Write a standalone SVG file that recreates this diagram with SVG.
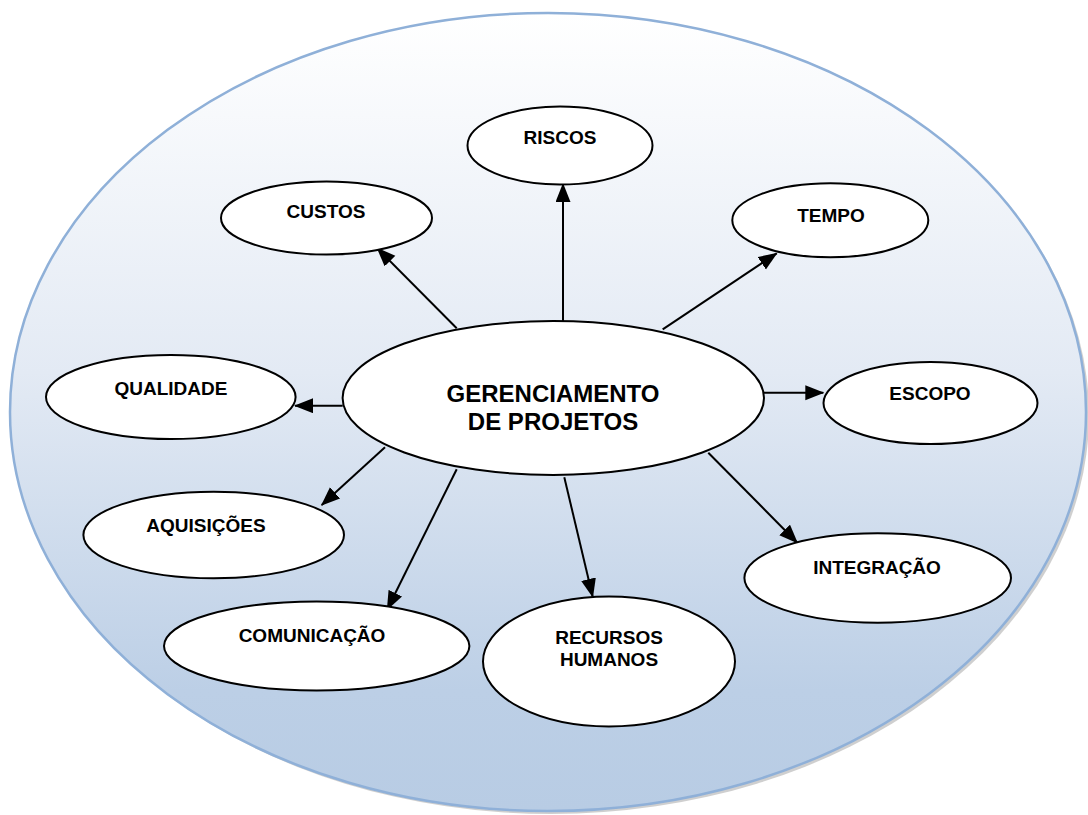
<svg xmlns="http://www.w3.org/2000/svg" width="1088" height="815" viewBox="0 0 1088 815">
<style>
.n{fill:#fff;stroke:#000;stroke-width:2}
.t{font-family:"Liberation Sans",Arial,sans-serif;font-weight:bold;font-size:19px;fill:#000;text-anchor:middle}
.c{font-size:24px}
.e{stroke:#000;stroke-width:2;fill:none;marker-end:url(#ah)}
</style>
<defs>
<linearGradient id="bg" x1="0" y1="0" x2="0" y2="1">
<stop offset="0" stop-color="#ffffff"/>
<stop offset="0.45" stop-color="#e3eaf4"/>
<stop offset="0.85" stop-color="#bccfe6"/>
<stop offset="1" stop-color="#b8cce4"/>
</linearGradient>
<marker id="ah" markerUnits="userSpaceOnUse" markerWidth="20" markerHeight="16" refX="18" refY="7.5" orient="auto">
<path d="M0,0 L19,7.5 L0,15 Z" fill="#000"/>
</marker>
</defs>
<g id="background">
<ellipse cx="551" cy="415" rx="538" ry="399" fill="#a0a0a0" opacity="0.5"/>
<ellipse cx="548" cy="412" rx="538" ry="399" fill="url(#bg)" stroke="#8fb0d8" stroke-width="2.5"/>
</g>
<g id="connectors">
<line class="e" x1="563" y1="321" x2="563" y2="184"/>
<line class="e" x1="456.7" y1="328.3" x2="377.3" y2="248.3"/>
<line class="e" x1="662.7" y1="329.3" x2="776.7" y2="253.3"/>
<line class="e" x1="342.7" y1="405.7" x2="295" y2="405.7"/>
<line class="e" x1="764" y1="392.7" x2="823.3" y2="392.7"/>
<line class="e" x1="708.3" y1="452.7" x2="797.3" y2="542.7"/>
<line class="e" x1="385" y1="447.3" x2="321.7" y2="505"/>
<line class="e" x1="456.7" y1="469.3" x2="387.3" y2="609.3"/>
<line class="e" x1="564.3" y1="477.3" x2="592.7" y2="596.7"/>
</g>
<g id="center">
<ellipse class="n" cx="553.3" cy="398" rx="210.7" ry="77"/>
<text class="t c" x="553" y="402">GERENCIAMENTO</text>
<text class="t c" x="553" y="430">DE PROJETOS</text>
</g>
<g id="riscos">
<ellipse class="n" cx="560" cy="145.5" rx="92.5" ry="39"/>
<text class="t" x="560" y="144">RISCOS</text>
</g>
<g id="custos">
<ellipse class="n" cx="326.5" cy="218" rx="105.5" ry="36.5"/>
<text class="t" x="326" y="218">CUSTOS</text>
</g>
<g id="tempo">
<ellipse class="n" cx="830.3" cy="220.3" rx="98" ry="37"/>
<text class="t" x="831" y="222">TEMPO</text>
</g>
<g id="qualidade">
<ellipse class="n" cx="170.8" cy="397" rx="124.8" ry="42"/>
<text class="t" x="171" y="395">QUALIDADE</text>
</g>
<g id="escopo">
<ellipse class="n" cx="930.5" cy="403" rx="107" ry="41"/>
<text class="t" x="930" y="400">ESCOPO</text>
</g>
<g id="aquisicoes">
<ellipse class="n" cx="213.7" cy="535" rx="130.3" ry="43.3"/>
<text class="t" x="206" y="532">AQUISIÇÕES</text>
</g>
<g id="integracao">
<ellipse class="n" cx="877.7" cy="578" rx="133.3" ry="44.7"/>
<text class="t" x="877" y="574">INTEGRAÇÃO</text>
</g>
<g id="comunicacao">
<ellipse class="n" cx="316.7" cy="646" rx="152.7" ry="44.5"/>
<text class="t" x="312" y="642">COMUNICAÇÃO</text>
</g>
<g id="recursos">
<ellipse class="n" cx="609" cy="661.5" rx="126" ry="65"/>
<text class="t" x="609" y="644">RECURSOS</text>
<text class="t" x="609" y="666">HUMANOS</text>
</g>
</svg>
